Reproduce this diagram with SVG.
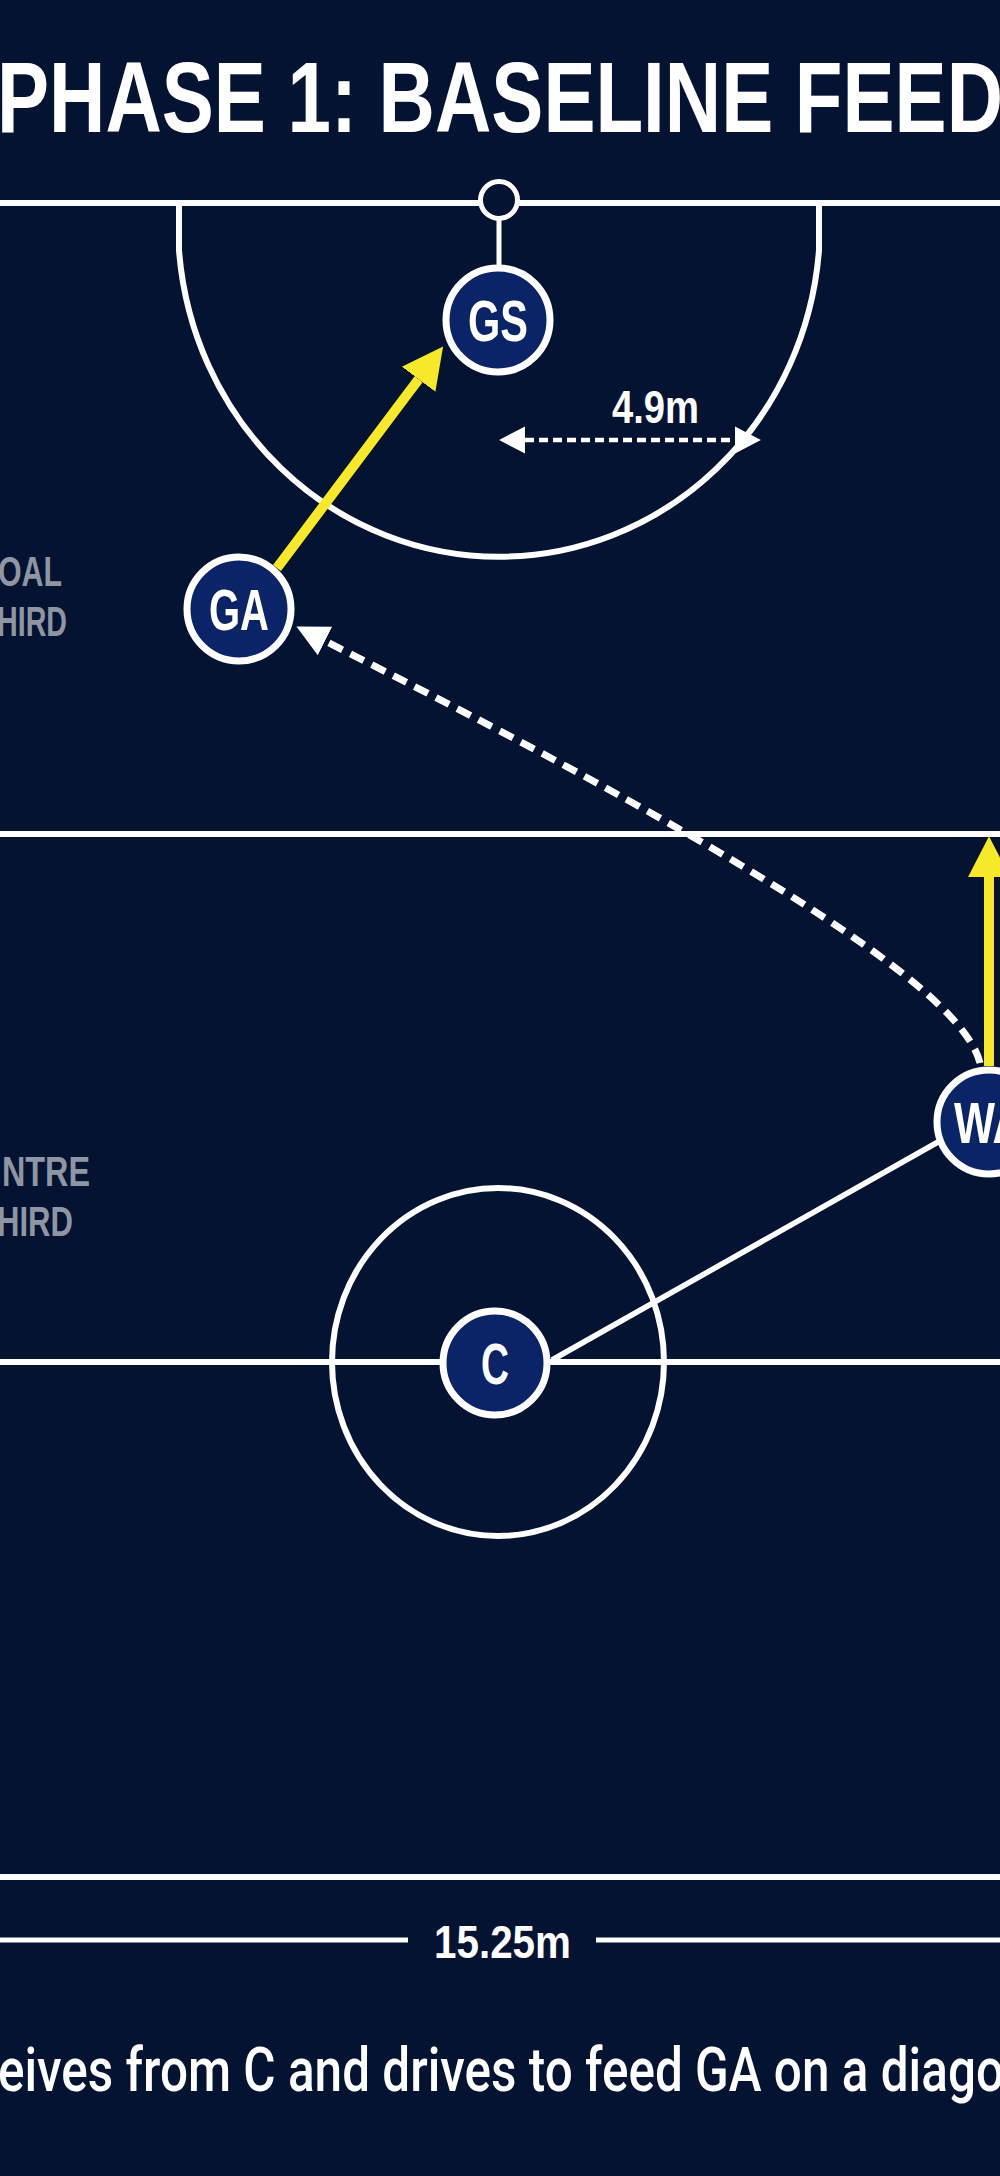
<svg xmlns="http://www.w3.org/2000/svg" width="1000" height="2176" viewBox="0 0 1000 2176">
  <style>
    .court { fill: none; stroke: #ffffff; stroke-width: 6; }
    .node circle { fill: #0b2468; stroke: #ffffff; stroke-width: 7; }
    .node text { fill: #ffffff; font-family: "Liberation Sans", Arial, sans-serif; font-weight: bold; font-size: 58px; text-anchor: middle; }
    .zone { fill: #8f96a3; font-family: "Liberation Sans", Arial, sans-serif; font-weight: bold; font-size: 43px; }
    .dim { fill: #ffffff; font-family: "Liberation Sans", Arial, sans-serif; font-weight: bold; font-size: 46px; }
    .pass { fill: none; stroke: #f5e92a; stroke-width: 10; }
  </style>
  <defs>
    <marker id="arrY" markerUnits="userSpaceOnUse" markerWidth="42" markerHeight="44" viewBox="0 -21 40 42" refX="0" refY="0" orient="auto">
      <path d="M0,-20 L39,0 L0,20 Z" fill="#f5e92a"/>
    </marker>
    <marker id="arrW" markerUnits="userSpaceOnUse" markerWidth="34" markerHeight="34" viewBox="0 -17 34 34" refX="0" refY="0" orient="auto">
      <path d="M0,-16 L32,0 L0,16 Z" fill="#ffffff"/>
    </marker>
    <marker id="arrD" markerUnits="userSpaceOnUse" markerWidth="28" markerHeight="30" viewBox="0 -14 27 28" refX="0" refY="0" orient="auto-start-reverse">
      <path d="M0,-13 L25,0 L0,13 Z" fill="#ffffff"/>
    </marker>
  </defs>

  <rect x="0" y="0" width="1000" height="2176" fill="#041331"/>

  <!-- Title -->
  <text x="500" y="132" fill="#ffffff" font-family="'Liberation Sans', Arial, sans-serif" font-weight="bold" font-size="101" text-anchor="middle" textLength="1006" lengthAdjust="spacingAndGlyphs">PHASE 1: BASELINE FEED</text>

  <!-- Court -->
  <g id="court">
    <line class="court" x1="0" y1="203" x2="1000" y2="203"/>
    <path class="court" d="M179,203 L179,250 A321,333 0 0 0 819,250 L819,203"/>
    <line class="court" x1="0" y1="834" x2="1000" y2="834"/>
    <line class="court" x1="0" y1="1362" x2="1000" y2="1362"/>
    <ellipse class="court" cx="498" cy="1362" rx="166" ry="174"/>
    <line class="court" x1="0" y1="1877" x2="1000" y2="1877"/>
    <line x1="499" y1="219" x2="499" y2="266" stroke="#ffffff" stroke-width="5"/>
    <circle cx="499" cy="200" r="18.5" fill="#041331" stroke="#ffffff" stroke-width="5"/>
  </g>

  <!-- Zone labels -->
  <text class="zone" x="-2" y="586" textLength="64" lengthAdjust="spacingAndGlyphs">OAL</text>
  <text class="zone" x="-3" y="636" textLength="70" lengthAdjust="spacingAndGlyphs">HIRD</text>
  <text class="zone" x="2" y="1186" textLength="88" lengthAdjust="spacingAndGlyphs">NTRE</text>
  <text class="zone" x="-3" y="1236" textLength="76" lengthAdjust="spacingAndGlyphs">HIRD</text>

  <!-- Dimension 4.9m -->
  <g id="dim-circle">
    <path d="M525,440 L735,440" fill="none" stroke="#ffffff" stroke-width="4.5" stroke-dasharray="9 5" marker-start="url(#arrD)" marker-end="url(#arrD)"/>
    <text class="dim" x="612" y="423" textLength="87" lengthAdjust="spacingAndGlyphs">4.9m</text>
  </g>

  <!-- Connectors -->
  <g id="connectors">
    <line x1="552" y1="1360" x2="938" y2="1142" stroke="#ffffff" stroke-width="5.5"/>
    <path d="M980,1063 C965,1000 800,880 325,641" fill="none" stroke="#ffffff" stroke-width="7" stroke-dasharray="15 9" marker-end="url(#arrW)"/>
    <path class="pass" d="M277,568 L418.6,379.2" marker-end="url(#arrY)"/>
    <path class="pass" d="M989,1066 L989,877" stroke-width="11" marker-end="url(#arrY)"/>
  </g>

  <!-- Nodes -->
  <g id="node-GS" class="node">
    <circle cx="498" cy="320" r="52"/>
    <text x="498" y="341" textLength="60" lengthAdjust="spacingAndGlyphs">GS</text>
  </g>
  <g id="node-GA" class="node">
    <circle cx="239" cy="609" r="52"/>
    <text x="239" y="630" textLength="60" lengthAdjust="spacingAndGlyphs">GA</text>
  </g>
  <g id="node-WA" class="node">
    <circle cx="989" cy="1122" r="52"/>
    <text x="989" y="1143" textLength="70" lengthAdjust="spacingAndGlyphs">WA</text>
  </g>
  <g id="node-C" class="node">
    <circle cx="495" cy="1363" r="52"/>
    <text x="495" y="1384" textLength="28" lengthAdjust="spacingAndGlyphs">C</text>
  </g>

  <!-- Width dimension -->
  <g id="dim-width">
    <line x1="0" y1="1940" x2="408" y2="1940" stroke="#ffffff" stroke-width="5"/>
    <line x1="596" y1="1940" x2="1000" y2="1940" stroke="#ffffff" stroke-width="5"/>
    <text class="dim" x="434" y="1958" textLength="137" lengthAdjust="spacingAndGlyphs">15.25m</text>
  </g>

  <!-- Caption -->
  <text x="-2" y="2091" fill="#ffffff" font-family="Roboto, 'Liberation Sans', sans-serif" font-weight="500" font-size="61" textLength="1006" lengthAdjust="spacingAndGlyphs">eives from C and drives to feed GA on a diago</text>
</svg>
